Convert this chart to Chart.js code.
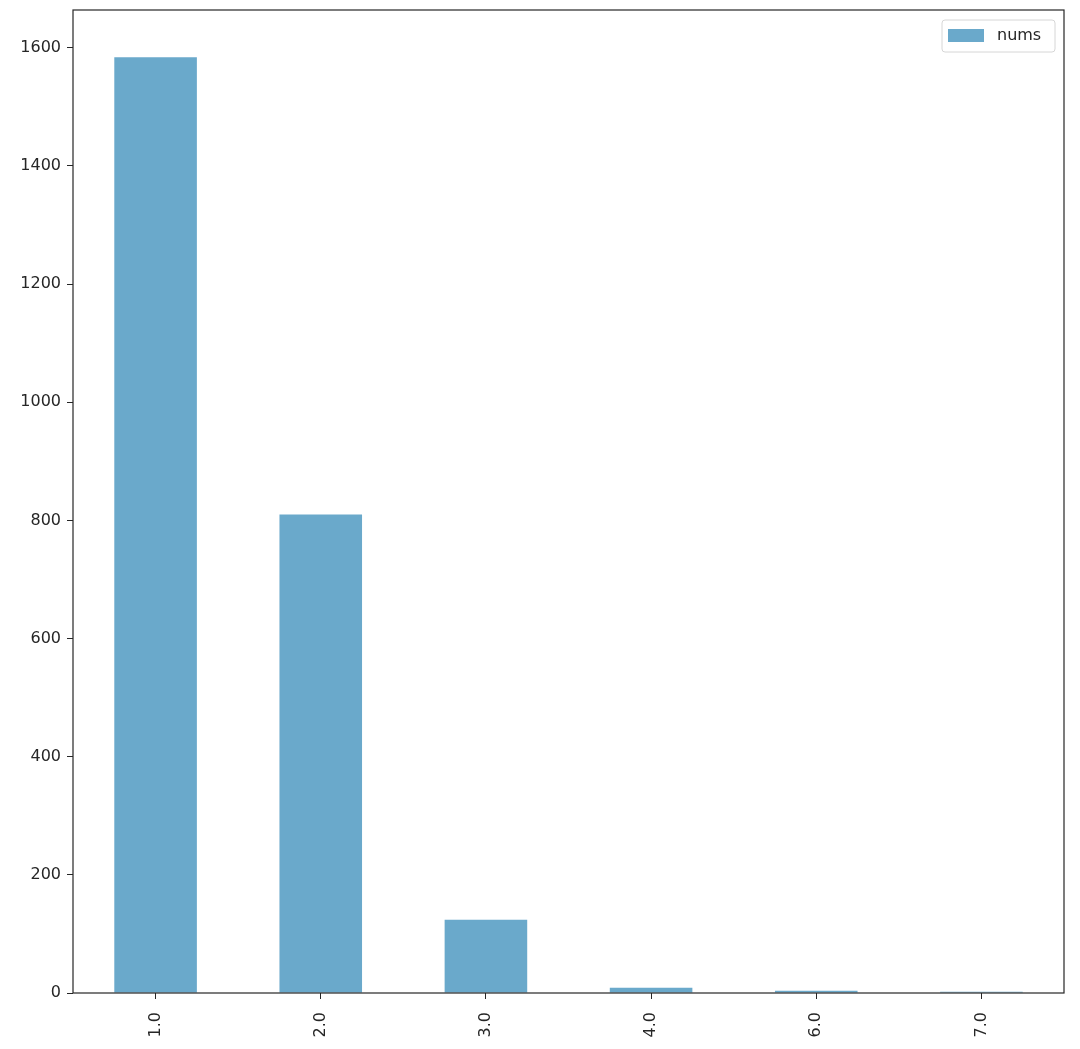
<!DOCTYPE html>
<html>
<head>
<meta charset="utf-8">
<script src="https://cdn.jsdelivr.net/npm/chart.js@4/dist/chart.umd.min.js"></script>
<style>
  html, body { margin: 0; padding: 0; background: #fff; }
  #wrap { width: 1080px; height: 1049px; }
</style>
</head>
<body>
<div id="wrap"><canvas id="c" width="1080" height="1049"></canvas></div>
<script>
const categories = ["1.0", "2.0", "3.0", "4.0", "6.0", "7.0"];
const nums = [1584, 810, 124, 9, 4, 2];
const yTicks = [0, 200, 400, 600, 800, 1000, 1200, 1400, 1600];

const barColor = "#6aa9cb";
const inkColor = "#262626";

// box around the plot + legend in the upper right
const framePlugin = {
  id: "frame",
  afterDatasetsDraw(chart) {
    const { ctx, chartArea: a } = chart;
    ctx.save();
    ctx.strokeStyle = inkColor;
    ctx.lineWidth = 1.2;
    ctx.strokeRect(a.left, a.top, a.right - a.left, a.bottom - a.top);

    const ds = chart.data.datasets[0];
    const bx = a.right - 122, by = a.top + 10, bw = 113, bh = 32;
    ctx.fillStyle = "rgba(255,255,255,0.8)";
    ctx.strokeStyle = "#d6d6d6";
    ctx.lineWidth = 1;
    ctx.beginPath();
    ctx.roundRect(bx, by, bw, bh, 3);
    ctx.fill();
    ctx.stroke();
    ctx.fillStyle = ds.backgroundColor;
    ctx.fillRect(bx + 6, by + 9, 36, 13);
    ctx.fillStyle = inkColor;
    ctx.font = "16px 'DejaVu Sans'";
    ctx.textBaseline = "middle";
    ctx.fillText(ds.label, bx + 55, by + bh / 2);
    ctx.restore();
  },
};

new Chart(document.getElementById("c"), {
  type: "bar",
  data: {
    labels: categories,
    datasets: [
      {
        label: "nums",
        data: nums,
        backgroundColor: barColor,
        borderWidth: 0,
        categoryPercentage: 1.0,
        barPercentage: 0.5,
      },
    ],
  },
  options: {
    responsive: false,
    animation: false,
    layout: {
      padding: { left: 0, top: 10, right: 16, bottom: 0 },
    },
    scales: {
      x: {
        afterFit: (s) => { s.height = 56; },
        grid: {
          offset: false,
          drawOnChartArea: false,
          drawTicks: true,
          tickLength: 6,
          color: inkColor,
        },
        border: { display: false },
        ticks: {
          color: inkColor,
          font: { family: "DejaVu Sans", size: 16 },
          minRotation: 90,
          maxRotation: 90,
          padding: 13,
        },
      },
      y: {
        min: 0,
        max: 1664,
        afterFit: (s) => {
          s.width = 73;
          s.paddingTop = 0;
          s.paddingBottom = 0;
        },
        afterBuildTicks: (s) => { s.ticks = yTicks.map((v) => ({ value: v })); },
        grid: {
          drawOnChartArea: false,
          drawTicks: true,
          tickLength: 6,
          color: inkColor,
        },
        border: { display: false },
        ticks: {
          color: inkColor,
          font: { family: "DejaVu Sans", size: 16 },
          padding: 6,
          callback: (v) => String(v),
        },
      },
    },
    plugins: {
      legend: { display: false },
      tooltip: { enabled: false },
    },
  },
  plugins: [framePlugin],
});
</script>
</body>
</html>
